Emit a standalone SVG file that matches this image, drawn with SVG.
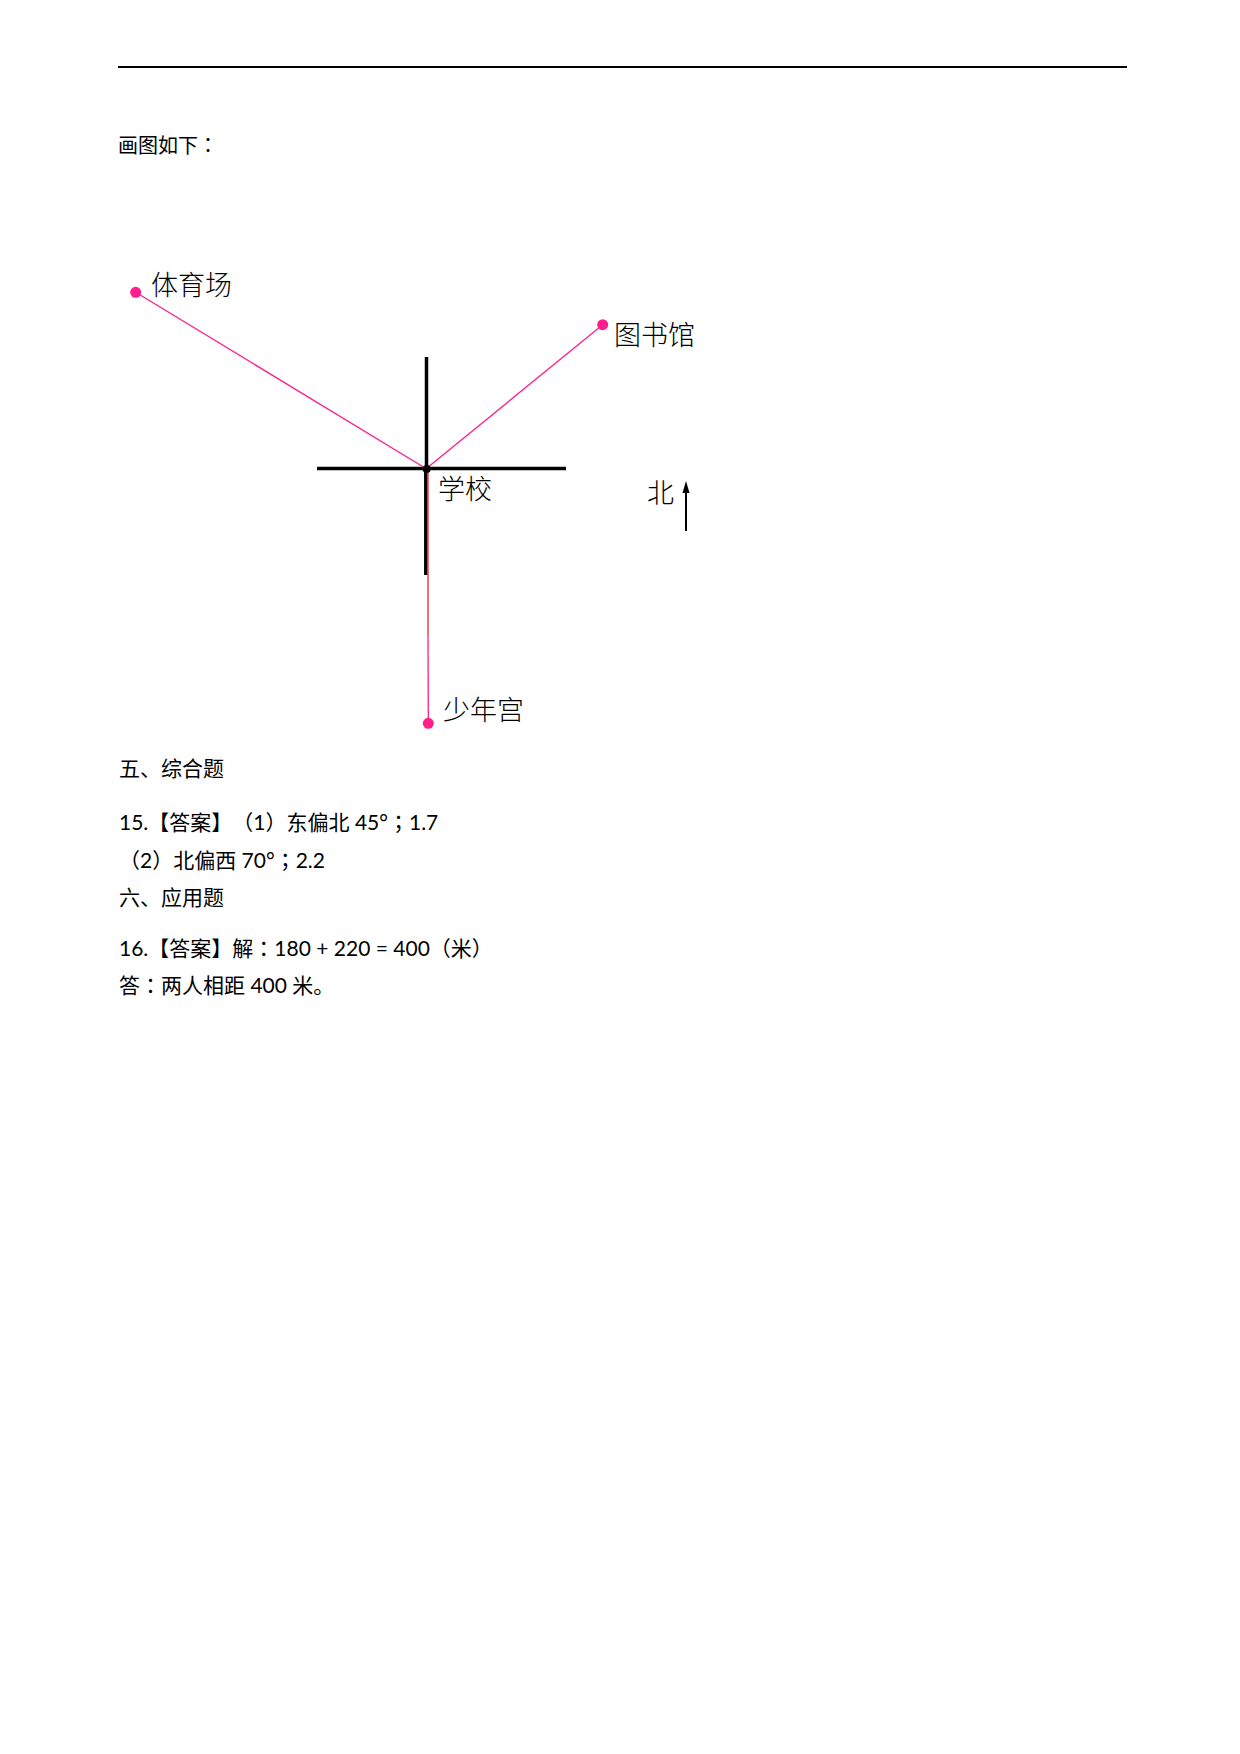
<svg xmlns="http://www.w3.org/2000/svg" width="1240" height="1754" viewBox="0 0 1240 1754">
<style>
text{text-spacing-trim:space-all}
.t{font-family:Lato,"Noto Sans CJK SC",sans-serif;font-size:21px;fill:#000}
.h{font-family:"Noto Sans CJK SC",sans-serif;font-size:20px;fill:#000}
.p{font-family:"Noto Sans CJK TC",sans-serif}
.lbl{font-family:"Noto Sans CJK SC",sans-serif;font-size:27px;font-weight:300;fill:#000}
.pk{stroke:#ff1e8c;stroke-width:1.3;fill:none}
.ax{stroke:#000;stroke-width:3.5;fill:none}
.dot{fill:#ff1e8c}
</style>
<rect width="1240" height="1754" fill="#fff"/>
<line x1="118" y1="67" x2="1127" y2="67" stroke="#000" stroke-width="2"/>
<text class="h" x="118" y="153">画图如下<tspan class="p">：</tspan></text>

<g id="axes">
<line class="ax" x1="317" y1="468.5" x2="566" y2="468.5"/>
<line class="ax" x1="426.5" y1="357" x2="426.5" y2="470" stroke-width="3"/>
<line class="ax" x1="425.8" y1="470" x2="425.8" y2="575" stroke-width="3"/>
</g>

<g id="connectors">
<line class="pk" x1="135.7" y1="292.3" x2="426.7" y2="469"/>
<line class="pk" x1="602.7" y1="324.7" x2="427" y2="468"/>
<line x1="428" y1="470" x2="428" y2="636" stroke="#e8262e" stroke-width="1.3"/>
<line class="pk" x1="428" y1="636" x2="428.3" y2="723"/>
</g>

<g id="school">
<circle cx="426.7" cy="469" r="4" fill="#000"/>
<text class="lbl" x="438" y="499">学校</text>
</g>
<g id="stadium">
<circle class="dot" cx="135.7" cy="292.3" r="5.5"/>
<text class="lbl" x="151" y="295">体育场</text>
</g>
<g id="library">
<circle class="dot" cx="602.7" cy="324.7" r="5.5"/>
<text class="lbl" x="614" y="345">图书馆</text>
</g>
<g id="youth-palace">
<circle class="dot" cx="428.3" cy="723.3" r="5.5"/>
<text class="lbl" x="443" y="720">少年宫</text>
</g>
<g id="north">
<text class="lbl" x="647" y="503" font-size="25">北</text>
<line x1="686" y1="488" x2="686" y2="531" stroke="#000" stroke-width="2"/>
<polygon points="686,481 682.5,493 689.5,493" fill="#000"/>
</g>

<text class="t" x="119" y="776">五、综合题</text>
<text class="t" x="119" y="830">15.【答案】<tspan class="p">（</tspan>1<tspan class="p">）</tspan>东偏北 45°<tspan class="p">；</tspan>1.7</text>
<text class="t" x="119" y="868"><tspan class="p">（</tspan>2<tspan class="p">）</tspan>北偏西 70°<tspan class="p">；</tspan>2.2</text>
<text class="t" x="119" y="905">六、应用题</text>
<text class="t" x="119" y="956">16.【答案】解<tspan class="p">：</tspan>180 + 220 = 400<tspan class="p">（</tspan>米<tspan class="p">）</tspan></text>
<text class="t" x="119" y="993">答<tspan class="p">：</tspan>两人相距 400 米。</text>
</svg>
